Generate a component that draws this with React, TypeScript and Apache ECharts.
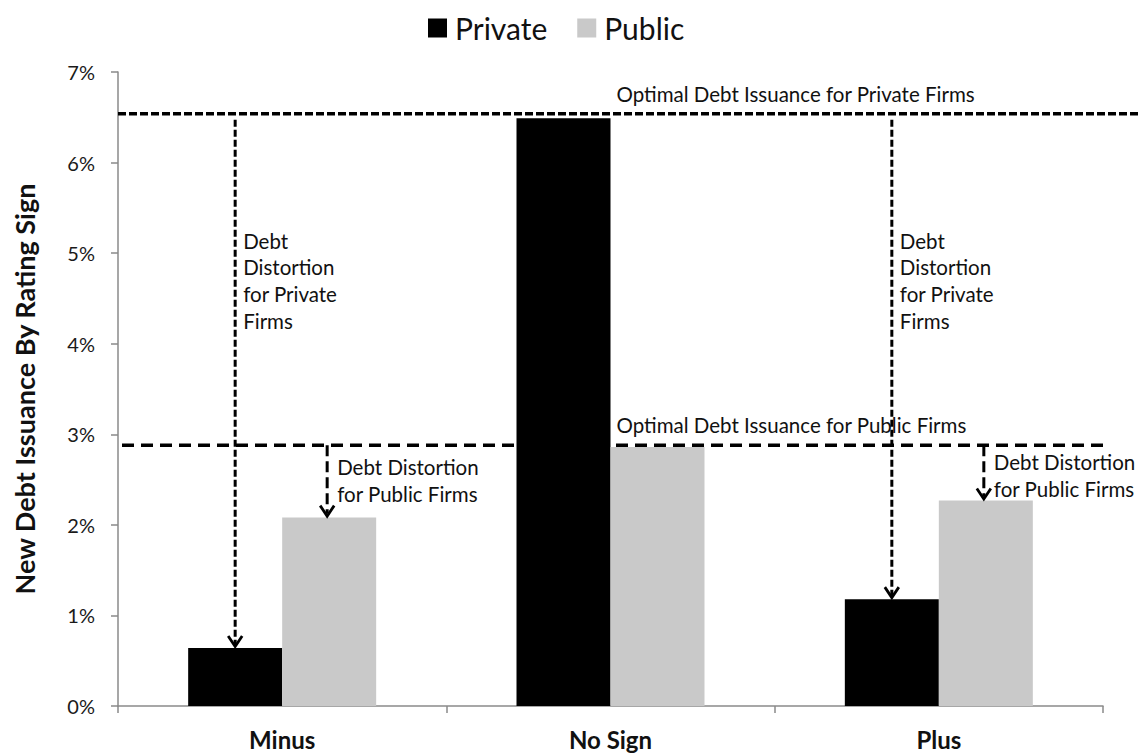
import React, { useEffect, useRef } from 'react';
import * as echarts from 'echarts';

// Rating-sign groups and new debt issuance (% of assets)
const categories = ['Minus', 'No Sign', 'Plus'];
const privateIssuance = [0.64, 6.49, 1.18];
const publicIssuance = [2.08, 2.86, 2.27];

// Benchmark (optimal) issuance levels
const optimalPrivate = 6.54;
const optimalPublic = 2.88;

// Value axis range
const yMin = 0;
const yMax = 7;
const yStep = 1;

// Which categories carry the distortion arrows
const distortionCategories = [0, 2];

const privateNote = ['Debt', 'Distortion', 'for Private', 'Firms'];
const publicNote = ['Debt Distortion', 'for Public Firms'];
const optimalPrivateNote = 'Optimal Debt Issuance for Private Firms';
const optimalPublicNote = 'Optimal Debt Issuance for Public Firms';

const FONT = 'Lato, "Open Sans", sans-serif';
const BAR_W = 94;
const NOTE_SIZE = 20.5;

function dashedArrow(x: number, yStart: number, tip: number, dash: number[]) {
  return [
    {
      type: 'line',
      shape: { x1: x, y1: yStart, x2: x, y2: tip - 4 },
      style: { stroke: '#000', lineWidth: 3, lineDash: dash },
    },
    {
      type: 'polyline',
      shape: { points: [[x - 7, tip - 12], [x, tip - 1.5], [x + 7, tip - 12]] },
      style: { stroke: '#000', fill: 'none', lineWidth: 2.8 },
    },
  ];
}

function note(text: string, x: number, y: number) {
  return {
    type: 'text',
    x,
    y,
    style: {
      text,
      fill: '#111',
      fontSize: NOTE_SIZE,
      fontFamily: FONT,
      align: 'left',
      verticalAlign: 'middle',
      textAlign: 'left',
      textVerticalAlign: 'middle',
    },
  };
}

export default function App() {
  const ref = useRef<HTMLDivElement>(null);

  useEffect(() => {
    if (!ref.current) return;
    const chart = echarts.init(ref.current, undefined, { renderer: 'svg' });

    const renderAnnotations = (params: any, api: any) => {
      const idx = api.value(0) as number;
      const band = api.size([1, 0])[0];
      const cx = api.coord([idx, 0])[0];
      const yPriv = api.coord([idx, optimalPrivate])[1];
      const yPub = api.coord([idx, optimalPublic])[1];
      const children: any[] = [];

      if (idx === 1) {
        const left = cx - 1.5 * band;
        const right = cx + 1.5 * band;
        children.push({
          type: 'line',
          shape: { x1: left, y1: yPriv, x2: api.getWidth() - 5, y2: yPriv },
          style: { stroke: '#000', lineWidth: 3.5, lineDash: [8, 3] },
        });
        children.push({
          type: 'line',
          shape: { x1: left + 4, y1: yPub, x2: right + 7, y2: yPub },
          style: { stroke: '#000', lineWidth: 3.5, lineDash: [12, 7] },
        });
        children.push(note(optimalPrivateNote, cx + 6, yPriv - 20));
        children.push(note(optimalPublicNote, cx + 6, yPub - 20));
      }

      if (distortionCategories.indexOf(idx) >= 0) {
        const xPriv = cx - BAR_W / 2;
        const xPub = cx + BAR_W / 2;
        const privTop = api.coord([idx, privateIssuance[idx]])[1];
        const pubTop = api.coord([idx, publicIssuance[idx]])[1];
        children.push(...dashedArrow(xPriv, yPriv + 6, privTop, [7, 3]));
        children.push(...dashedArrow(xPub - 2, yPub, pubTop, [11, 5]));
        privateNote.forEach((t, i) => {
          children.push(note(t, xPriv + 8, yPriv + 127 + i * 26.7));
        });
        const pubOffset = idx === 0 ? 22 : 17;
        publicNote.forEach((t, i) => {
          children.push(note(t, xPub + 8, yPub + pubOffset + i * 26.7));
        });
      }
      return { type: 'group', children };
    };

    chart.setOption({
      animation: false,
      backgroundColor: '#fff',
      legend: {
        data: ['Private', 'Public'],
        top: 8,
        left: 423,
        icon: 'rect',
        itemWidth: 19,
        itemHeight: 19,
        itemGap: 30,
        textStyle: {
          fontFamily: FONT,
          fontSize: 30,
          color: '#111',
          padding: [0, 0, 0, 3],
        },
      },
      grid: { left: 118, right: 42, top: 72, bottom: 47 },
      xAxis: {
        type: 'category',
        data: categories,
        axisLine: { lineStyle: { color: '#8a8a8a', width: 1.5 } },
        axisTick: { show: true, length: 7, lineStyle: { color: '#8a8a8a', width: 1.5 } },
        axisLabel: {
          fontFamily: FONT,
          fontWeight: 'bold',
          fontSize: 24,
          color: '#111',
          margin: 21,
        },
      },
      yAxis: {
        type: 'value',
        min: yMin,
        max: yMax,
        interval: yStep,
        name: 'New Debt Issuance By Rating Sign',
        nameLocation: 'middle',
        nameRotate: 90,
        nameGap: 80,
        nameTextStyle: {
          fontFamily: FONT,
          fontWeight: 'bold',
          fontSize: 27,
          color: '#111',
        },
        axisLine: { show: true, lineStyle: { color: '#8a8a8a', width: 1.5 } },
        axisTick: { show: true, length: 7, lineStyle: { color: '#8a8a8a', width: 1.5 } },
        splitLine: { show: false },
        axisLabel: {
          formatter: '{value}%',
          fontFamily: FONT,
          fontSize: 20,
          color: '#1a1a1a',
          margin: 23,
        },
      },
      series: [
        {
          name: 'Private',
          type: 'bar',
          data: privateIssuance,
          barWidth: BAR_W,
          barGap: '0%',
          itemStyle: { color: '#000' },
        },
        {
          name: 'Public',
          type: 'bar',
          data: publicIssuance,
          barWidth: BAR_W,
          barGap: '0%',
          itemStyle: { color: '#c9c9c9' },
        },
        {
          name: 'annotations',
          type: 'custom',
          data: categories.map((_, i) => [i, optimalPrivate]),
          encode: { x: 0, y: 1 },
          renderItem: renderAnnotations,
          clip: false,
          silent: true,
          z: 5,
        },
      ],
    });

    return () => chart.dispose();
  }, []);

  return (
    <div
      ref={ref}
      style={{ position: 'absolute', left: 0, top: 0, width: 1145, height: 753, background: '#fff' }}
    />
  );
}
